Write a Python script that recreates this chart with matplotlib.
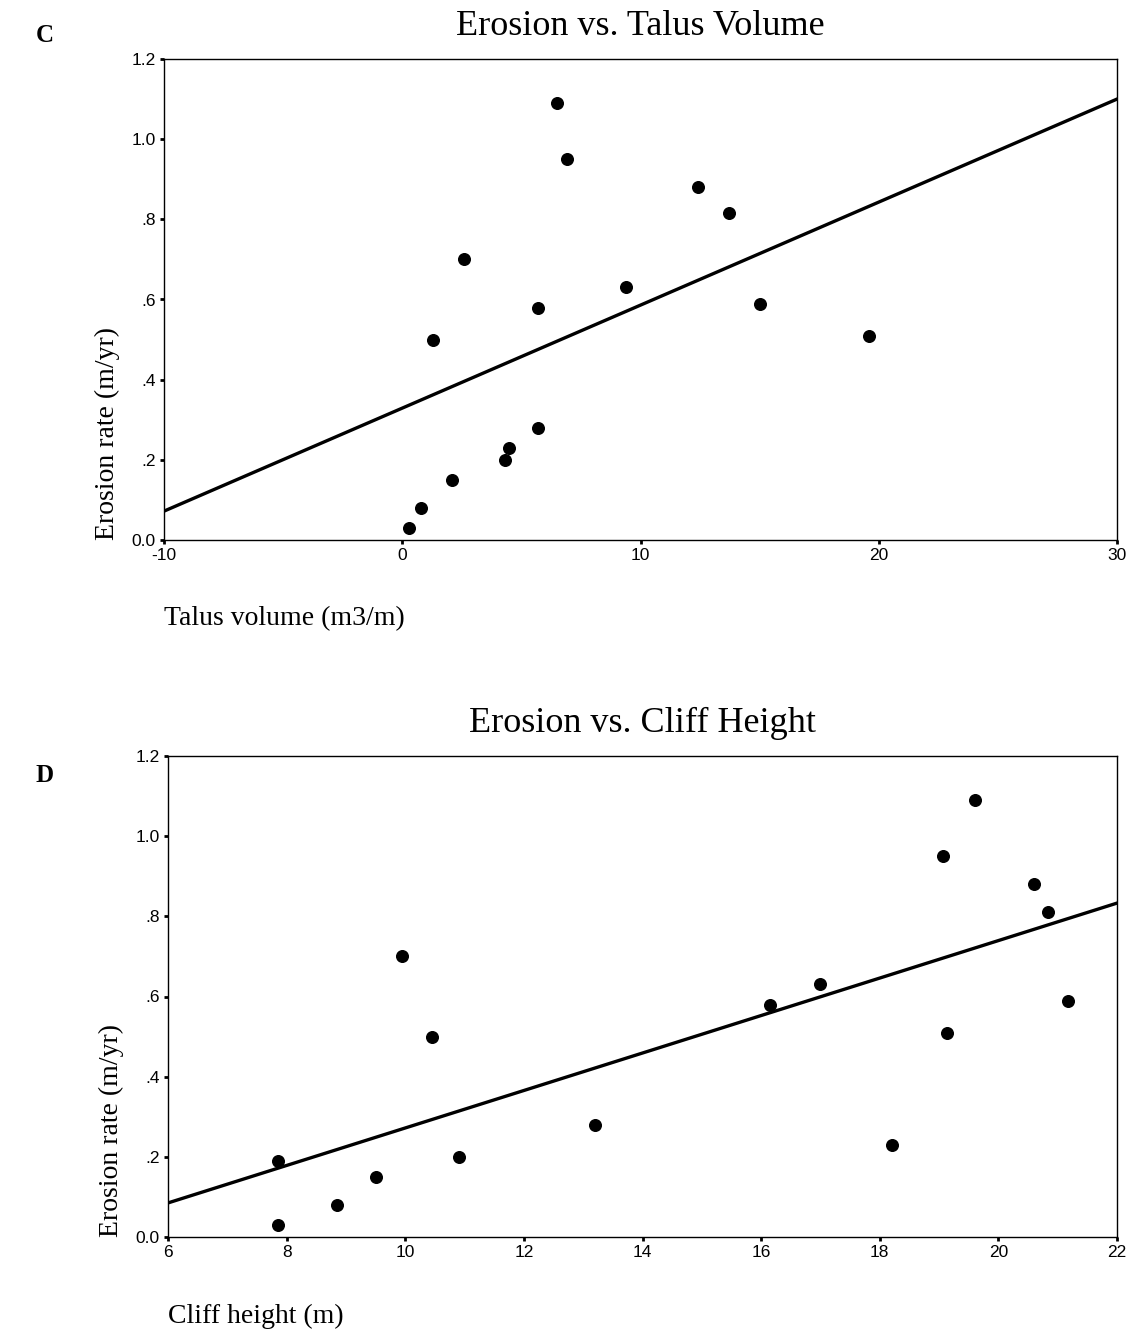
import numpy as np
import matplotlib.pyplot as plt

# Panel C: erosion rate vs talus volume
talus_volume = [0.3, 0.8, 1.3, 2.1, 2.6, 4.3, 4.5, 5.7, 5.7, 6.5, 6.9, 9.4, 12.4, 13.7, 15.0, 19.6]
talus_rate = [0.03, 0.08, 0.50, 0.15, 0.70, 0.20, 0.23, 0.58, 0.28, 1.09, 0.95, 0.63, 0.88, 0.815, 0.59, 0.51]
talus_fit = [0.0257, 0.329]  # slope, intercept

# Panel D: erosion rate vs cliff height
cliff_height = [7.85, 7.86, 8.85, 9.5, 9.95, 10.45, 10.9, 13.2, 16.15, 17.0, 18.2, 19.07, 19.14, 19.6, 20.6, 20.83, 21.17]
cliff_rate = [0.03, 0.19, 0.08, 0.15, 0.70, 0.50, 0.20, 0.28, 0.58, 0.63, 0.23, 0.95, 0.51, 1.09, 0.88, 0.81, 0.59]
cliff_fit = [0.04675, -0.1955]  # slope, intercept

y_ticks = [0.0, 0.2, 0.4, 0.6, 0.8, 1.0, 1.2]
y_ticklabels = ['0.0', '.2', '.4', '.6', '.8', '1.0', '1.2']

serif = ['Liberation Serif', 'DejaVu Serif']
sans = ['Liberation Sans', 'DejaVu Sans']

fig = plt.figure(figsize=(11.29, 13.33), dpi=100)
W, H = 1129, 1333


def panel(rect, x, y, fit, xlim, xticks, title, xlabel, letter, letter_y):
    l, t, r, b = rect
    ax = fig.add_axes([l / W, 1 - b / H, (r - l) / W, (b - t) / H])
    ax.scatter(x, y, s=70, color='black', zorder=3)
    xs = np.array(xlim)
    ax.plot(xs, fit[0] * xs + fit[1], color='black', lw=2.4, zorder=2)
    ax.set_xlim(xlim)
    ax.set_ylim(0, 1.2)
    ax.set_xticks(xticks)
    ax.set_xticklabels([str(v) for v in xticks], family=sans, fontsize=12.5)
    ax.set_yticks(y_ticks)
    ax.set_yticklabels(y_ticklabels, family=sans, fontsize=12.5)
    ax.tick_params(direction='out', length=3, width=2, pad=3)
    for s in ax.spines.values():
        s.set_linewidth(1.0)
    ax.set_title(title, family=serif, fontsize=26, pad=17)
    fig.text((l - 57) / W, 1 - b / H, 'Erosion rate (m/yr)', rotation=90,
             family=serif, fontsize=20, ha='center', va='bottom')
    fig.text(l / W, 1 - (b + 79) / H, xlabel, family=serif, fontsize=20,
             ha='left', va='center')
    fig.text(36 / W, 1 - letter_y / H, letter, family=serif, fontsize=18,
             fontweight='bold', ha='left', va='center')
    return ax


panel((164, 59, 1117, 540), talus_volume, talus_rate, talus_fit, (-10, 30),
      [-10, 0, 10, 20, 30], 'Erosion vs. Talus Volume', 'Talus volume (m3/m)', 'C', 36)
panel((168, 756, 1117, 1237), cliff_height, cliff_rate, cliff_fit, (6, 22),
      [6, 8, 10, 12, 14, 16, 18, 20, 22], 'Erosion vs. Cliff Height', 'Cliff height (m)', 'D', 775)

fig.savefig('out.png', dpi=100)
